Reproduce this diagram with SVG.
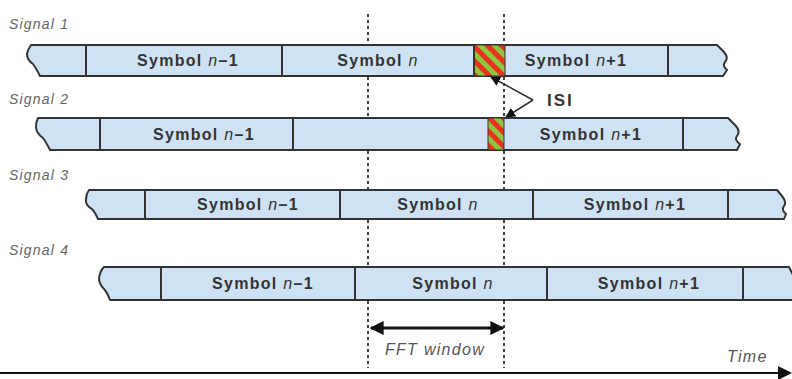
<svg xmlns="http://www.w3.org/2000/svg" width="792" height="379" viewBox="0 0 792 379">
<style>
.bar{fill:#cfe2f3;stroke:#333;stroke-width:2;stroke-linejoin:round}
.div{stroke:#333;stroke-width:2}
.sym{font-family:"Liberation Sans",Arial,sans-serif;font-size:16px;font-weight:bold;fill:#333;text-anchor:middle;letter-spacing:1.3px}
.sig{font-family:"Liberation Sans",Arial,sans-serif;font-size:14px;font-style:italic;fill:#666;letter-spacing:1.2px}
.dot{stroke:#444;stroke-width:2;stroke-dasharray:3,3;fill:none}
.lbl{font-family:"Liberation Sans",Arial,sans-serif;font-size:16px;font-style:italic;fill:#555;letter-spacing:1.3px}
.hatch{fill:url(#stripes);stroke:#333;stroke-width:1}
</style>
<defs>
<pattern id="stripes" patternUnits="userSpaceOnUse" width="10" height="10" patternTransform="rotate(-45)">
<rect x="0" y="0" width="10" height="10" fill="#8dc63f"/>
<rect x="0" y="0" width="5" height="10" fill="#e8321e"/>
</pattern>
<marker id="ah" viewBox="0 0 10 10" refX="9" refY="5" markerWidth="10" markerHeight="10" markerUnits="userSpaceOnUse" orient="auto-start-reverse">
<path d="M0,0 L10,5 L0,10 Z" fill="#111"/>
</marker>
<marker id="ahb" viewBox="0 0 10 10" refX="9" refY="5" markerWidth="14" markerHeight="14" markerUnits="userSpaceOnUse" orient="auto-start-reverse">
<path d="M0,0 L10,5 L0,10 Z" fill="#111"/>
</marker>
</defs>

<g id="connectors">
<line class="dot" x1="368" y1="14" x2="368" y2="44"/>
<line class="dot" x1="368" y1="77" x2="368" y2="117"/>
<line class="dot" x1="368" y1="151" x2="368" y2="189"/>
<line class="dot" x1="368" y1="220" x2="368" y2="266"/>
<line class="dot" x1="368" y1="301" x2="368" y2="368"/>
<line class="dot" x1="504" y1="14" x2="504" y2="44"/>
<line class="dot" x1="504" y1="77" x2="504" y2="117"/>
<line class="dot" x1="504" y1="151" x2="504" y2="189"/>
<line class="dot" x1="504" y1="220" x2="504" y2="266"/>
<line class="dot" x1="504" y1="301" x2="504" y2="368"/>
<line x1="533" y1="100" x2="491" y2="77" stroke="#333" stroke-width="1.5" marker-end="url(#ah)"/>
<line x1="533" y1="100" x2="506" y2="117" stroke="#333" stroke-width="1.5" marker-end="url(#ah)"/>
<line x1="371" y1="328" x2="503" y2="328" stroke="#111" stroke-width="3" marker-start="url(#ahb)" marker-end="url(#ahb)"/>
<line x1="0" y1="373" x2="782" y2="373" stroke="#111" stroke-width="2"/>
<path d="M778,366 L792,373 L778,380 Z" fill="#111"/>
</g>

<g id="signal1">
<text class="sig" x="9" y="29">Signal 1</text>
<path class="bar" d="M31,45 H717 L724,52 Q729,58 725,62 Q722,66 727,70 L723,76 H40 Q36,68 33,64 Q27,60 27,54 Q28,49 31,45 Z"/>
<rect class="hatch" x="474" y="45" width="31" height="31"/>
<line class="div" x1="86" y1="45" x2="86" y2="76"/>
<line class="div" x1="282" y1="45" x2="282" y2="76"/>
<line class="div" x1="474" y1="45" x2="474" y2="76"/>
<line class="div" x1="668" y1="45" x2="668" y2="76"/>
<text class="sym" x="188" y="66">Symbol <tspan font-style="italic" font-weight="normal">n</tspan>–1</text>
<text class="sym" x="378" y="66">Symbol <tspan font-style="italic" font-weight="normal">n</tspan></text>
<text class="sym" x="576" y="66">Symbol <tspan font-style="italic" font-weight="normal">n</tspan>+1</text>
</g>

<g id="isi">
<text x="547" y="106" font-family="Liberation Sans,Arial,sans-serif" font-size="17" font-weight="bold" fill="#333" letter-spacing="2">ISI</text>
</g>

<g id="signal2">
<text class="sig" x="9" y="104">Signal 2</text>
<path class="bar" d="M38,118 H728 L735,125 Q741,131 737,136 Q734,140 740,144 L737,150 H50 Q46,142 43,138 Q36,133 36,127 Q36,122 38,118 Z"/>
<rect class="hatch" x="488" y="118" width="16" height="32"/>
<line class="div" x1="100" y1="118" x2="100" y2="150"/>
<line class="div" x1="293" y1="118" x2="293" y2="150"/>
<line class="div" x1="683" y1="118" x2="683" y2="150"/>
<text class="sym" x="204" y="140">Symbol <tspan font-style="italic" font-weight="normal">n</tspan>–1</text>
<text class="sym" x="591" y="140">Symbol <tspan font-style="italic" font-weight="normal">n</tspan>+1</text>
</g>

<g id="signal3">
<text class="sig" x="9" y="180">Signal 3</text>
<path class="bar" d="M89,190 H777 L782,196 Q787,202 784,206 Q781,210 786,214 L784,219 H98 Q95,212 92,209 Q85,205 86,199 Q86,194 89,190 Z"/>
<line class="div" x1="145" y1="190" x2="145" y2="219"/>
<line class="div" x1="340" y1="190" x2="340" y2="219"/>
<line class="div" x1="533" y1="190" x2="533" y2="219"/>
<line class="div" x1="728" y1="190" x2="728" y2="219"/>
<text class="sym" x="248" y="210">Symbol <tspan font-style="italic" font-weight="normal">n</tspan>–1</text>
<text class="sym" x="438" y="210">Symbol <tspan font-style="italic" font-weight="normal">n</tspan></text>
<text class="sym" x="635" y="210">Symbol <tspan font-style="italic" font-weight="normal">n</tspan>+1</text>
</g>

<g id="signal4">
<text class="sig" x="9" y="255">Signal 4</text>
<path class="bar" d="M104,267 H789 L793,275 V300 H110 Q107,292 104,289 Q99,284 99,278 Q100,271 104,267 Z"/>
<line class="div" x1="161" y1="267" x2="161" y2="300"/>
<line class="div" x1="355" y1="267" x2="355" y2="300"/>
<line class="div" x1="547" y1="267" x2="547" y2="300"/>
<line class="div" x1="743" y1="267" x2="743" y2="300"/>
<text class="sym" x="263" y="289">Symbol <tspan font-style="italic" font-weight="normal">n</tspan>–1</text>
<text class="sym" x="453" y="289">Symbol <tspan font-style="italic" font-weight="normal">n</tspan></text>
<text class="sym" x="649" y="289">Symbol <tspan font-style="italic" font-weight="normal">n</tspan>+1</text>
</g>

<g id="labels">
<text class="lbl" x="435" y="355" text-anchor="middle">FFT window</text>
<text class="lbl" x="727" y="362" font-size="14">Time</text>
</g>
</svg>
